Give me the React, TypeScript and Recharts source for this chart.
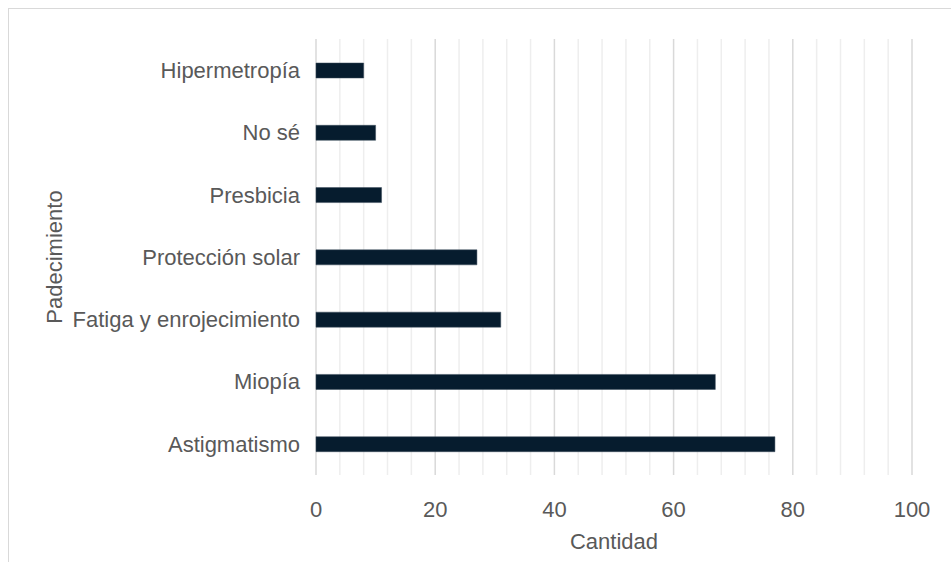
import React from "react";
import {
  BarChart, Bar, XAxis, YAxis, CartesianGrid, Label,
} from "recharts";

const CATEGORIES = [
  "Hipermetropía", "No sé", "Presbicia", "Protección solar",
  "Fatiga y enrojecimiento", "Miopía", "Astigmatismo",
];
const CANTIDAD = [8, 10, 11, 27, 31, 67, 77];
const X_DOMAIN: [number, number] = [0, 100];
const MAJOR_TICKS = [0, 20, 40, 60, 80, 100];
const MINOR_TICKS = [4, 8, 12, 16, 24, 28, 32, 36, 44, 48, 52, 56, 64, 68, 72, 76, 84, 88, 92, 96];

const TEXT = "#595959";
const FONT = "'Liberation Sans', Arial, sans-serif";
const FS = 22;

const data = CATEGORIES.map((name, i) => ({ name, value: CANTIDAD[i] }));

// x positions of the minor grid lines; uses the axis scale when available,
// otherwise maps the fixed domain onto the plot area
function minorLines({ xAxis, offset }: any): number[] {
  if (xAxis && typeof xAxis.scale === "function") {
    return MINOR_TICKS.map((v) => xAxis.scale(v));
  }
  const [d0, d1] = X_DOMAIN;
  return MINOR_TICKS.map((v) => offset.left + ((v - d0) / (d1 - d0)) * offset.width);
}

export default function App() {
  return (
    <div style={{ position: "fixed", left: 0, top: 0, width: 951, height: 562, background: "#fff", fontFamily: FONT }}>
      {/* chart frame, runs off the right and bottom edges */}
      <div style={{
        position: "absolute", left: 8, top: 8, width: 960, height: 570,
        borderTop: "1px solid #d9d9d9", borderLeft: "1px solid #d9d9d9",
      }} />
      <div style={{ position: "absolute", left: 0, top: 0 }}>
        <BarChart
          width={951}
          height={562}
          data={data}
          layout="vertical"
          margin={{ top: 39, right: 39, bottom: 27, left: 16 }}
          barSize={15}
        >
          {/* light minor grid every 4, darker major grid every 20 */}
          <CartesianGrid horizontal={false} stroke="#eeeeee" strokeWidth={1.5} verticalCoordinatesGenerator={minorLines} />
          <CartesianGrid horizontal={false} stroke="#d9d9d9" strokeWidth={1.5} />
          <XAxis
            type="number"
            domain={X_DOMAIN}
            ticks={MAJOR_TICKS}
            axisLine={false}
            tickLine={false}
            tickSize={0}
            tickMargin={26}
            height={60}
            tick={{ fill: TEXT, fontSize: FS, fontFamily: FONT }}
          >
            <Label value="Cantidad" position="insideBottom" offset={-14} fill={TEXT} fontSize={FS} fontFamily={FONT} />
          </XAxis>
          <YAxis
            type="category"
            dataKey="name"
            width={300}
            axisLine={false}
            tickLine={false}
            tickSize={0}
            tickMargin={16}
            interval={0}
            tick={{ fill: TEXT, fontSize: FS, fontFamily: FONT }}
          >
            <Label value="Padecimiento" angle={-90} position="insideLeft" offset={38} textAnchor="middle" fill={TEXT} fontSize={FS} fontFamily={FONT} />
          </YAxis>
          <Bar dataKey="value" fill="#061c2e" stroke="#3b4b5a" strokeWidth={0.5} isAnimationActive={false} />
        </BarChart>
      </div>
    </div>
  );
}
